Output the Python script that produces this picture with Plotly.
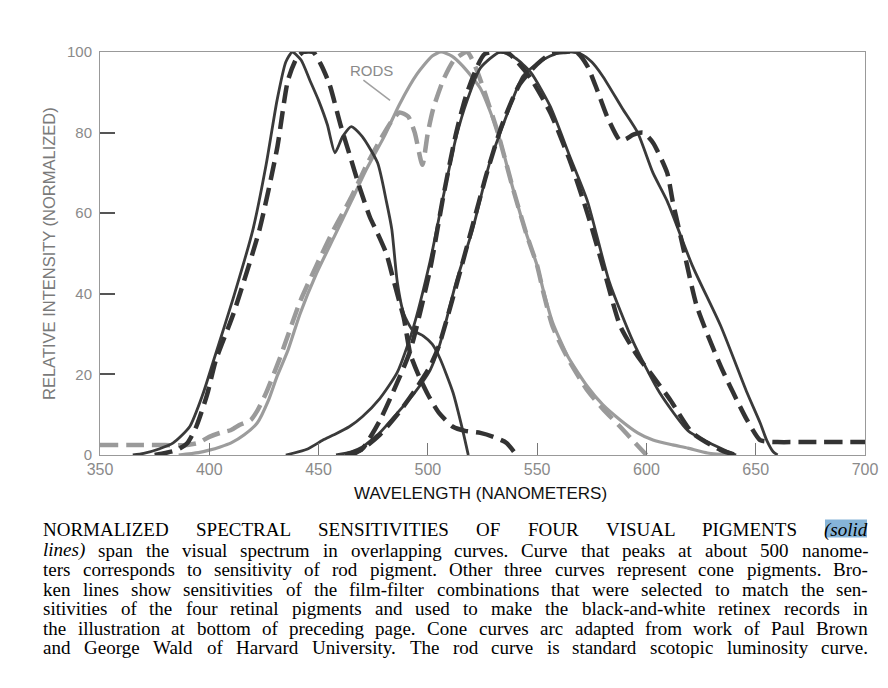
import plotly.graph_objects as go

# ---------------- data ----------------
blue_x = [365, 370, 377, 383.5, 391, 397, 402, 411, 420, 426, 431, 435, 438, 442, 446, 450, 454, 457.5,
          461, 465, 470, 477, 481, 483.5, 486, 489, 493, 498, 502, 505.5, 511.5, 516, 518.5]
blue_y = [0, 0.4, 1.5, 3, 7, 15, 23.5, 39, 56, 72, 88, 97.5, 100, 98, 93, 88, 82, 75,
          79, 81.5, 79, 72.5, 63, 56, 43, 35, 31, 29.5, 27.5, 24, 15.5, 6, 0]

blue_dash_x = [375, 380, 385, 390, 394, 399, 403, 411, 423, 431, 436, 440, 443, 447.5, 451, 455, 460,
               464.5, 469, 473.5, 477, 481, 484, 487, 489, 492, 496, 500, 505, 511.5, 517, 524, 530, 536, 540.5]
blue_dash_y = [0, 0.5, 1.2, 3, 7, 15, 23.5, 35, 56, 76, 93, 98.5, 100, 100, 97, 92, 82,
               74, 66, 59, 55, 50, 44, 38, 34, 25, 19.5, 15, 10.5, 7, 6, 5.5, 4.5, 3, 0]

rod_x = [386, 395, 400, 405, 410, 416, 422, 427, 431, 436, 441.5, 449, 457, 465, 472, 480, 487, 495, 502,
         506, 511, 516, 524, 532, 539, 545, 550, 553, 557, 564, 573, 580, 588, 596, 603, 612, 619, 628, 640]
rod_y = [0, 0.6, 1.2, 2, 3, 5, 8, 13.5, 19.5, 26, 35, 45, 54, 63, 71, 79, 87, 94.5, 99,
         100, 99, 96.5, 91, 80, 66, 55, 47, 40.5, 33, 24.5, 17, 12.5, 8.7, 5.5, 3.7, 2.5, 1.7, 0.5, 0]

rod_dash_x = [350, 370, 390, 395, 400, 405, 410, 414, 419, 422, 426, 432, 441.5, 449, 457, 465, 472, 478,
              483, 487, 491, 494, 497.5, 500, 502.5, 507, 512, 518, 522, 526, 532, 539, 545, 550, 553, 557,
              564, 573, 580, 588, 594, 600]
rod_dash_y = [2.5, 2.5, 2.5, 3, 4.5, 5.5, 6.2, 7.5, 8.7, 11, 15.4, 23.6, 38, 47, 56, 64, 72, 78,
              82.5, 85, 84, 80, 72, 80, 86, 93, 98, 100, 96, 90, 80, 66, 55, 47, 40, 32,
              24, 16, 11.5, 7, 3.5, 0]

green_x = [435, 445, 452, 457, 464, 470, 478, 486, 493, 501, 507, 513, 518, 524, 533, 540, 547, 556,
           565, 573, 583, 594, 606, 619, 627, 634, 641]
green_y = [0, 1.5, 3.7, 5, 7, 9.5, 14, 20.5, 31, 48, 64, 79, 88, 96, 100, 98.5, 95, 86.5,
           74, 63, 43, 28, 15.5, 6, 3.5, 1.7, 0]

green_dash_x = [465, 470, 478, 486, 492, 501, 507, 513, 518, 526, 536, 541, 547, 556, 565, 573, 580, 588,
                596, 603, 611, 621, 634, 641]
green_dash_y = [0, 1.5, 8.5, 18, 26, 46, 64, 80, 90, 99.5, 100, 97.5, 93.5, 85, 73, 60, 47, 32,
                24.5, 19.5, 13.6, 5.5, 1.2, 0]

red_x = [458, 465, 470, 478, 486, 494, 501, 505.5, 513, 520.5, 528, 534.5, 543.5, 551, 556, 561, 566,
         570, 575, 580, 589, 596, 603, 609.5, 621, 634, 646, 652, 655, 658, 660]
red_y = [0, 0.8, 2, 5.5, 10.4, 15.5, 21, 27.5, 43, 56, 72, 82, 94, 97.5, 99, 100, 100,
         99.5, 97.5, 94, 86, 80, 70, 63, 47, 32, 15.5, 8, 3.7, 0.8, 0]

red_dash_x = [462, 470, 478, 486, 494, 501, 505, 513, 520, 527, 534, 542, 550, 556, 562, 568, 573, 577.5,
              582, 588, 591, 594, 598.5, 603, 609.5, 612, 617, 623, 634, 646, 652, 656, 660, 670, 680, 690, 700]
red_dash_y = [0, 1.5, 5, 10, 16, 22, 27, 42, 56, 70, 82, 92, 97, 99.5, 100, 100, 96.5, 90.5,
              84, 78, 78.5, 79.5, 80, 77.5, 70, 63, 51, 37, 22, 8.7, 3.7, 3.3, 3.2, 3.2, 3.2, 3.2, 3.2]

x_ticks = [350, 400, 450, 500, 550, 600, 650, 700]
y_ticks = [0, 20, 40, 60, 80, 100]

rods_label = "RODS"
rods_label_pos = (474, 95.5)
rods_leader = (470.5, 93.0, 482.7, 88.0)

x_title = "WAVELENGTH (NANOMETERS)"
y_title = "RELATIVE INTENSITY (NORMALIZED)"

caption_lines = [
    "NORMALIZED SPECTRAL SENSITIVITIES OF FOUR VISUAL PIGMENTS *(solid",
    "*lines) span the visual spectrum in overlapping curves. Curve that peaks at about 500 nanome-",
    "ters corresponds to sensitivity of rod pigment. Other three curves represent cone pigments. Bro-",
    "ken lines show sensitivities of the film-filter combinations that were selected to match the sen-",
    "sitivities of the four retinal pigments and used to make the black-and-white retinex records in",
    "the illustration at bottom of preceding page. Cone curves arc adapted from work of Paul Brown",
    "and George Wald of Harvard University. The rod curve is standard scotopic luminosity curve.",
]

# ---------------- layout geometry (pixels) ----------------
W, H = 888, 688
L, R, T, B = 100, 865, 52, 455

def px_x(px):
    return (px - L) / (R - L)

def px_y(py):
    return (B - py) / (B - T)

# ---------------- figure ----------------
fig = go.Figure()

DARK = "#3a3a3a"
DARKD = "#333333"
GRAY = "#9c9c9c"
GRAYD = "#9a9a9a"
DASH = "18px,8px"

def add(x, y, color, width, dash=None):
    fig.add_trace(go.Scatter(
        x=x, y=y, mode="lines",
        line=dict(color=color, width=width, dash=dash if dash else "solid",
                  shape="spline", smoothing=0.6),
        hoverinfo="skip", showlegend=False))

add(rod_x, rod_y, GRAY, 3.2)
add(rod_dash_x, rod_dash_y, GRAYD, 4.5, DASH)
add(blue_x, blue_y, DARK, 2.8)
add(green_x, green_y, DARK, 2.8)
add(red_x, red_y, DARK, 2.8)
add(blue_dash_x, blue_dash_y, DARKD, 4.5, DASH)
add(green_dash_x, green_dash_y, DARKD, 4.5, DASH)
add(red_dash_x, red_dash_y, DARKD, 4.5, DASH)

fig.update_xaxes(
    range=[350, 700], tickvals=x_ticks, ticktext=[str(v) for v in x_ticks],
    ticks="inside", ticklen=12, tickwidth=1, tickcolor="#777",
    showline=True, linecolor="#999", linewidth=1, mirror=True,
    showgrid=False, zeroline=False, automargin=False,
    tickfont=dict(family="Liberation Sans, Arial", size=16, color="#8a8a8a"),
)
fig.update_yaxes(
    range=[0, 100], tickvals=y_ticks, ticktext=[str(v) for v in y_ticks],
    ticks="inside", ticklen=15, tickwidth=2, tickcolor="#555",
    showline=True, linecolor="#999", linewidth=1, mirror=True,
    showgrid=False, zeroline=False, automargin=False,
    tickfont=dict(family="Liberation Sans, Arial", size=15, color="#8a8a8a"),
    ticklabelstandoff=4,
)

annotations = []
shapes = []

# RODS label + leader
annotations.append(dict(x=rods_label_pos[0], y=rods_label_pos[1], xref="x", yref="y",
                        text=rods_label, showarrow=False,
                        font=dict(family="Liberation Sans, Arial", size=15, color="#8a8a8a"),
                        xanchor="center", yanchor="middle"))
shapes.append(dict(type="line", xref="x", yref="y",
                   x0=rods_leader[0], y0=rods_leader[1], x1=rods_leader[2], y1=rods_leader[3],
                   line=dict(color="#a0a0a0", width=1.5)))

# axis titles
annotations.append(dict(x=px_x(480), y=px_y(493), xref="paper", yref="paper", text=x_title,
                        showarrow=False, font=dict(family="Liberation Sans, Arial", size=17, color="#111"),
                        xanchor="center", yanchor="middle"))
annotations.append(dict(x=px_x(49), y=px_y(254), xref="paper", yref="paper", text=y_title,
                        showarrow=False, textangle=-90,
                        font=dict(family="Liberation Sans, Arial", size=16.5, color="#7a7a7a"),
                        xanchor="center", yanchor="middle"))

# caption, justified word by word (Times metrics)
TW = {' ': 250, '(': 333, ')': 333, ',': 250, '-': 333, '.': 250,
      'A': 722, 'B': 667, 'C': 667, 'D': 722, 'E': 611, 'F': 556, 'G': 722, 'H': 722, 'I': 333,
      'J': 389, 'K': 722, 'L': 611, 'M': 889, 'N': 722, 'O': 722, 'P': 556, 'Q': 722, 'R': 667,
      'S': 556, 'T': 611, 'U': 722, 'V': 722, 'W': 944, 'X': 722, 'Y': 722, 'Z': 611,
      'a': 444, 'b': 500, 'c': 444, 'd': 500, 'e': 444, 'f': 333, 'g': 500, 'h': 500, 'i': 278,
      'j': 278, 'k': 500, 'l': 278, 'm': 778, 'n': 500, 'o': 500, 'p': 500, 'q': 500, 'r': 333,
      's': 389, 't': 278, 'u': 500, 'v': 500, 'w': 722, 'x': 500, 'y': 500, 'z': 444}

CAP_FS = 19
CAP_LEFT, CAP_RIGHT = 43, 868
BASE0, PITCH = 536.7, 19.4
LINE_SHIFT = [-1.5, 0, 0, 0, 0, 0, 0]

def wwidth(w):
    return sum(TW.get(c, 500) for c in w) / 1000 * CAP_FS

for i, line in enumerate(caption_lines):
    words = line.split(" ")
    plain = [w.lstrip("*") for w in words]
    widths = [wwidth(w) for w in plain]
    gap = (CAP_RIGHT - CAP_LEFT - sum(widths)) / (len(words) - 1)
    cy = BASE0 + PITCH * i - 0.3 * CAP_FS + LINE_SHIFT[i]
    xpos = CAP_LEFT
    for j, (w, p, ww) in enumerate(zip(words, plain, widths)):
        txt = "<i>%s</i>" % p if w.startswith("*") else p
        if j == len(words) - 1:
            ax, anc = CAP_RIGHT, "right"
        else:
            ax, anc = xpos, "left"
        annotations.append(dict(x=px_x(ax), y=px_y(cy), xref="paper", yref="paper", text=txt,
                                showarrow=False, xanchor=anc, yanchor="middle",
                                borderpad=0, borderwidth=0,
                                font=dict(family="Liberation Serif, Times New Roman", size=CAP_FS,
                                          color="#000")))
        xpos += ww + gap

# selection highlight behind "solid"
shapes.append(dict(type="rect", xref="paper", yref="paper", layer="below",
                   x0=px_x(825), x1=px_x(867), y0=px_y(537.5), y1=px_y(519.5),
                   fillcolor="#86b4d8", line=dict(width=0)))

fig.update_layout(
    width=W, height=H,
    margin=dict(l=L, r=W - R, t=T, b=H - B, pad=0),
    paper_bgcolor="white", plot_bgcolor="white",
    annotations=annotations, shapes=shapes,
    showlegend=False,
)

fig.write_html("out.html")
